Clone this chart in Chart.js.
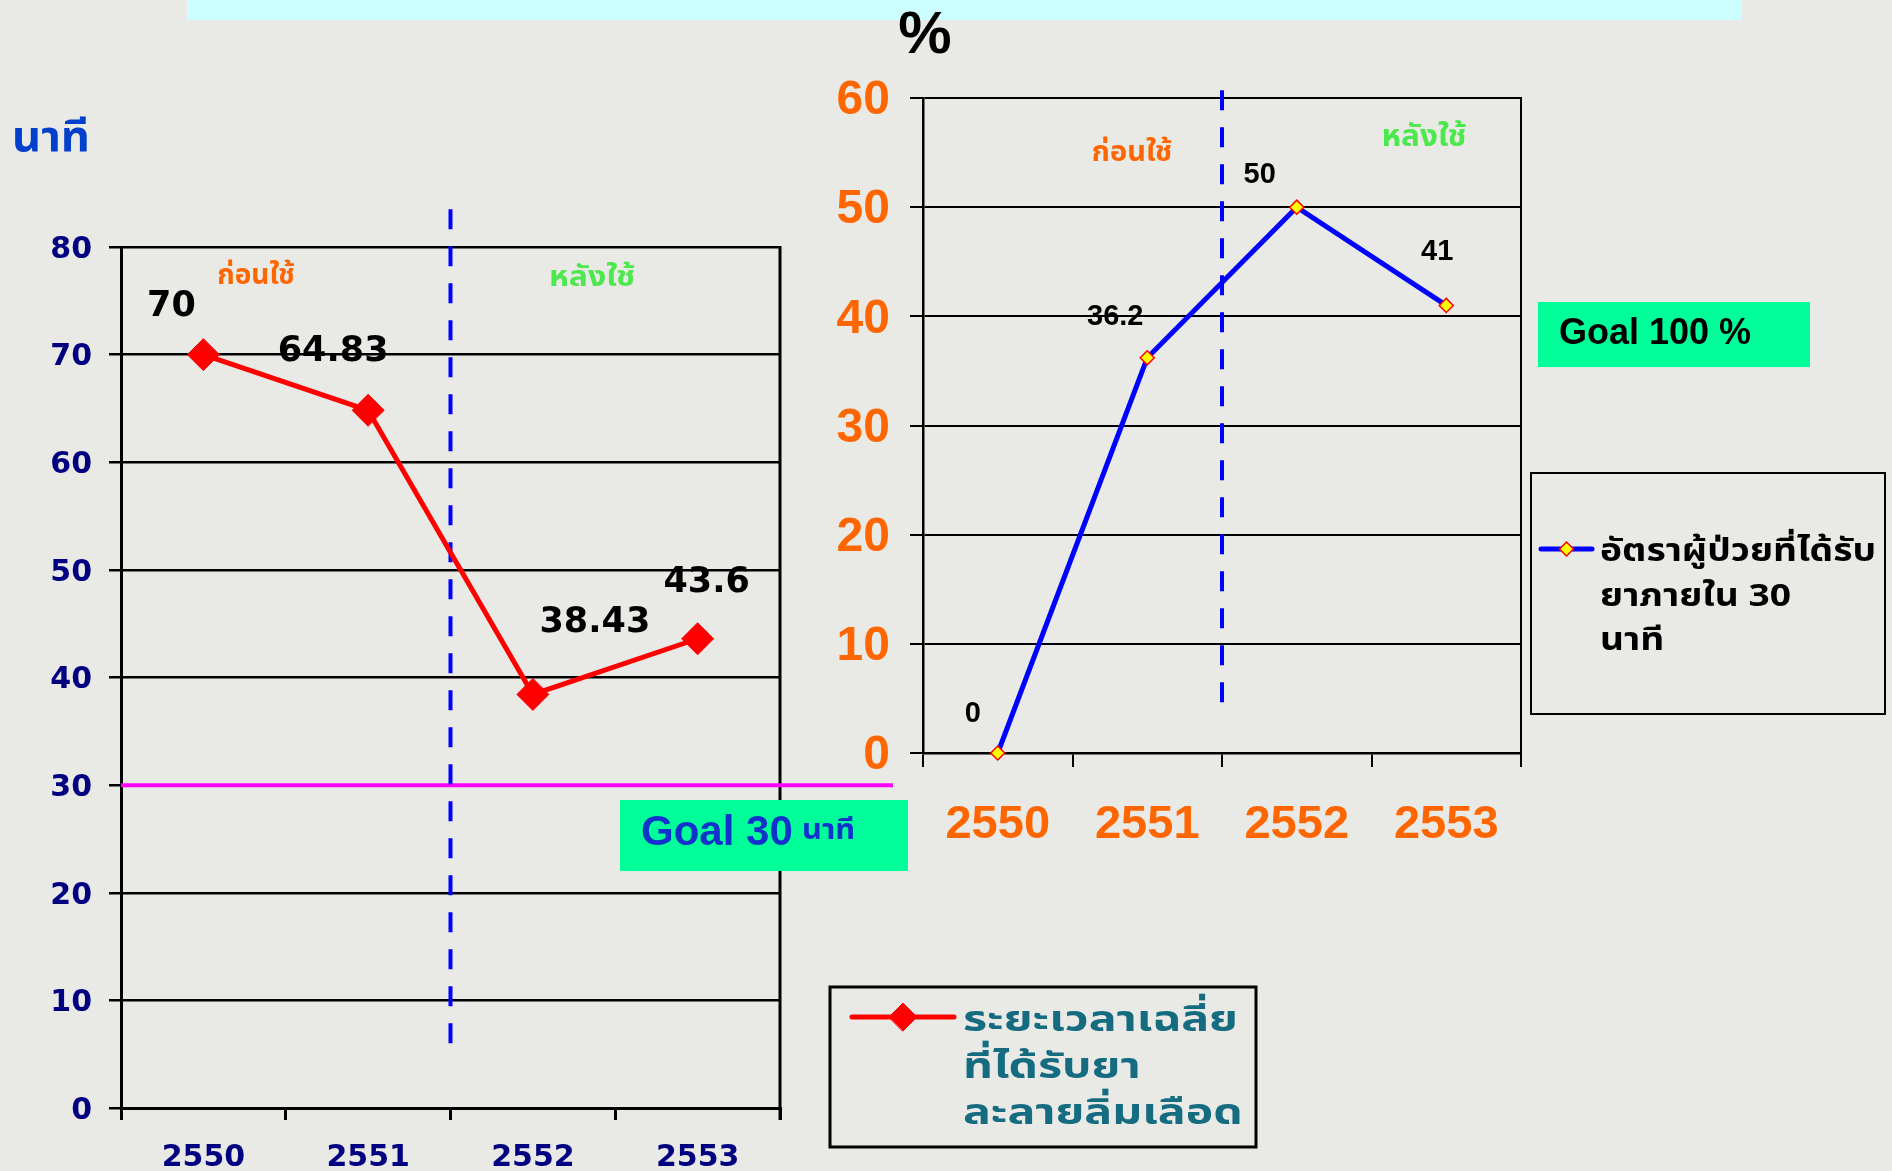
<!DOCTYPE html>
<html>
<head>
<meta charset="utf-8">
<script src="https://cdn.jsdelivr.net/npm/chart.js@4.4.1/dist/chart.umd.min.js"></script>
<style>
  html, body { margin: 0; padding: 0; width: 1892px; height: 1171px; overflow: hidden; background: #e9e9e6; }
  canvas { position: absolute; left: 0; top: 0; }
  #band { position: absolute; left: 187px; top: 0; width: 1554px; height: 20px; background: #ccffff; }
</style>
</head>
<body>
<div id="band"></div>
<canvas id="minutes" width="1892" height="1171"></canvas>
<canvas id="rate" width="1892" height="1171"></canvas>
<script>
// Fiscal years (Buddhist era)
const years = ['2550', '2551', '2552', '2553'];

// Average door-to-needle time for thrombolysis (minutes)
const avgMinutes = [70, 64.83, 38.43, 43.6];
const minutesAxisMax = 80;
const minutesAxisStep = 10;
const minutesGoal = 30;

// Share of patients treated within 30 minutes (%)
const rateWithin30 = [0, 36.2, 50, 41];
const rateAxisMax = 60;
const rateAxisStep = 10;

// Text
const minutesUnit = 'นาที';
const rateUnit = '%';
const beforeText = 'ก่อนใช้';
const afterText = 'หลังใช้';
const minutesLegend = ['ระยะเวลาเฉลี่ย', 'ที่ได้รับยา', 'ละลายลิ่มเลือด'];
const rateLegend = ['อัตราผู้ป่วยที่ได้รับ', 'ยาภายใน 30', 'นาที'];
const minutesGoalText = ['Goal 30', 'นาที'];
const rateGoalText = 'Goal 100 %';

const THAI = "'Noto Sans Thai', 'Noto Sans Thai Looped', 'Noto Sans', sans-serif";
const SANS = "'Liberation Sans', Arial, sans-serif";
const WIDE = "'DejaVu Sans', Verdana, sans-serif";

// Draw text, optionally stretched horizontally around its anchor
function drawText(ctx, s, x, y, font, color, align, stretch) {
  const k = stretch || 1;
  ctx.save();
  ctx.translate(x, y);
  ctx.scale(k, 1);
  ctx.font = font;
  ctx.fillStyle = color;
  ctx.textAlign = align || 'center';
  ctx.textBaseline = 'middle';
  ctx.fillText(s, 0, 0);
  ctx.restore();
}

// Value labels placed beside each point
const valueLabels = {
  id: 'valueLabels',
  afterDatasetsDraw(chart, args, opts) {
    const ctx = chart.ctx;
    const meta = chart.getDatasetMeta(0);
    const values = chart.data.datasets[0].data;
    meta.data.forEach((pt, i) => {
      const [dx, dy] = opts.offsets[i];
      drawText(ctx, String(values[i]), pt.x + dx, pt.y + dy, opts.font, opts.color);
    });
  }
};

// Divider between "before" and "after" periods, drawn on the category boundary
function drawDivider(chart, fromVal, toVal, width) {
  const x = chart.scales.x, y = chart.scales.y;
  const px = (x.getPixelForValue(1) + x.getPixelForValue(2)) / 2;
  const ctx = chart.ctx;
  ctx.save();
  ctx.strokeStyle = '#0000ff';
  ctx.lineWidth = width;
  ctx.setLineDash([20, 17]);
  ctx.beginPath();
  ctx.moveTo(px, y.getPixelForValue(fromVal));
  ctx.lineTo(px, y.getPixelForValue(toVal));
  ctx.stroke();
  ctx.restore();
}

function drawRightBorder(chart, width) {
  const a = chart.chartArea, ctx = chart.ctx;
  ctx.save();
  ctx.strokeStyle = '#000';
  ctx.lineWidth = width;
  ctx.beginPath();
  ctx.moveTo(a.right, a.top - 1);
  ctx.lineTo(a.right, a.bottom + chart.options.scales.x.grid.tickLength);
  ctx.stroke();
  ctx.restore();
}

function drawBox(ctx, x, y, w, h, fill, stroke, lw) {
  ctx.save();
  if (fill) { ctx.fillStyle = fill; ctx.fillRect(x, y, w, h); }
  if (stroke) { ctx.strokeStyle = stroke; ctx.lineWidth = lw; ctx.strokeRect(x, y, w, h); }
  ctx.restore();
}

function drawLegendSymbol(ctx, x0, x1, y, color, lw, point) {
  ctx.save();
  ctx.strokeStyle = color;
  ctx.lineWidth = lw;
  ctx.lineCap = 'round';
  ctx.beginPath();
  ctx.moveTo(x0, y);
  ctx.lineTo(x1, y);
  ctx.stroke();
  ctx.fillStyle = point.fill;
  ctx.strokeStyle = point.stroke;
  ctx.lineWidth = point.borderWidth;
  Chart.helpers.drawPoint(ctx, { pointStyle: 'rectRot', radius: point.radius, rotation: 0, borderWidth: point.borderWidth }, (x0 + x1) / 2, y);
  ctx.restore();
}

const minutesDecor = {
  id: 'minutesDecor',
  beforeDatasetsDraw(chart) {
    const ctx = chart.ctx, a = chart.chartArea, y = chart.scales.y;
    drawRightBorder(chart, 3);
    // goal line at 30 minutes
    const gy = y.getPixelForValue(minutesGoal);
    ctx.save();
    ctx.strokeStyle = '#ff00ff';
    ctx.lineWidth = 4;
    ctx.beginPath();
    ctx.moveTo(a.left, gy);
    ctx.lineTo(a.right + 113, gy);
    ctx.stroke();
    ctx.restore();
    drawDivider(chart, 83.5, 5, 4);
  },
  afterDraw(chart) {
    const ctx = chart.ctx;
    drawText(ctx, minutesUnit, 51, 142, `bold 43px ${THAI}`, '#0040cc', 'center', 1.05);
    drawText(ctx, beforeText, 256, 278, `bold 28px ${THAI}`, '#ff6600');
    drawText(ctx, afterText, 592, 280, `bold 29px ${THAI}`, '#4de84d', 'center', 1.1);
    // goal box
    drawBox(ctx, 620, 800, 288, 71, '#00ff99');
    drawText(ctx, minutesGoalText[0], 641, 833, `bold 42px ${SANS}`, '#1133cc', 'left');
    drawText(ctx, minutesGoalText[1], 802, 833, `bold 28px ${THAI}`, '#1133cc', 'left', 1.1);
    // legend
    drawBox(ctx, 830, 987, 426, 160, null, '#000', 3);
    drawLegendSymbol(ctx, 852, 954, 1017, '#ff0000', 5, { fill: '#ff0000', stroke: '#ff0000', radius: 14, borderWidth: 1 });
    minutesLegend.forEach((s, i) => drawText(ctx, s, 963, 1024 + i * 46.5, `bold 36px ${THAI}`, '#156b80', 'left', 1.29));
  }
};

const rateDecor = {
  id: 'rateDecor',
  beforeDatasetsDraw(chart) {
    drawRightBorder(chart, 2);
    drawDivider(chart, 60.7, 4, 4);
  },
  afterDraw(chart) {
    const ctx = chart.ctx;
    drawText(ctx, rateUnit, 925, 36, `bold 60px ${SANS}`, '#000');
    drawText(ctx, beforeText, 1132, 155, `bold 29px ${THAI}`, '#ff6600');
    drawText(ctx, afterText, 1424, 140, `bold 30px ${THAI}`, '#4de84d', 'center', 1.05);
    drawBox(ctx, 1538, 302, 272, 65, '#00ff99');
    drawText(ctx, rateGoalText, 1559, 334, `bold 36px ${SANS}`, '#000', 'left');
    drawBox(ctx, 1531, 473, 354, 241, null, '#000', 2);
    drawLegendSymbol(ctx, 1541, 1592, 549, '#0000ff', 5, { fill: '#ffff00', stroke: '#ff0000', radius: 7, borderWidth: 1.5 });
    rateLegend.forEach((s, i) => drawText(ctx, s, 1600, 555 + i * 44.5, `bold 31px ${THAI}`, '#000', 'left', 1.2));
  }
};

Chart.defaults.animation = false;

new Chart(document.getElementById('minutes'), {
  type: 'line',
  data: {
    labels: years,
    datasets: [{
      label: minutesLegend.join(''),
      data: avgMinutes,
      borderColor: '#ff0000',
      backgroundColor: '#ff0000',
      borderWidth: 5,
      tension: 0,
      pointStyle: 'rectRot',
      pointRadius: 16,
      pointHoverRadius: 16,
      pointBackgroundColor: '#ff0000',
      pointBorderColor: '#ff0000',
      pointBorderWidth: 1,
      clip: false
    }]
  },
  options: {
    responsive: false,
    events: [],
    layout: { padding: { left: 0, top: 247, right: 1112, bottom: 0 } },
    plugins: {
      legend: { display: false },
      tooltip: { enabled: false },
      valueLabels: { offsets: [[-32, -48], [-35, -58], [62, -71], [9, -56]], font: `bold 35px ${WIDE}`, color: '#000' }
    },
    scales: {
      x: {
        offset: true,
        grid: { offset: true, drawOnChartArea: false, drawTicks: true, tickLength: 12, color: '#000', lineWidth: 3 },
        border: { display: true, color: '#000', width: 3 },
        ticks: { color: '#000080', font: { family: WIDE, weight: 'bold', size: 30 }, padding: 20 },
        afterFit(s) { s.height = 63; }
      },
      y: {
        min: 0, max: minutesAxisMax,
        ticks: { stepSize: minutesAxisStep, color: '#000080', font: { family: WIDE, weight: 'bold', size: 30 }, padding: 17, labelOffset: 3 },
        grid: { color: '#000', lineWidth: 2.5, tickLength: 12 },
        border: { display: true, color: '#000', width: 3 },
        afterFit(s) { s.width = 121; }
      }
    }
  },
  plugins: [valueLabels, minutesDecor]
});

new Chart(document.getElementById('rate'), {
  type: 'line',
  data: {
    labels: years,
    datasets: [{
      label: rateLegend.join(''),
      data: rateWithin30,
      borderColor: '#0000ff',
      backgroundColor: '#0000ff',
      borderWidth: 5,
      tension: 0,
      pointStyle: 'rectRot',
      pointRadius: 7,
      pointHoverRadius: 7,
      pointBackgroundColor: '#ffff00',
      pointBorderColor: '#ff0000',
      pointBorderWidth: 1.5,
      clip: false
    }]
  },
  options: {
    responsive: false,
    events: [],
    layout: { padding: { left: 803, top: 98, right: 371, bottom: 318 } },
    plugins: {
      legend: { display: false },
      tooltip: { enabled: false },
      valueLabels: { offsets: [[-25, -39], [-32, -41], [-37, -32], [-9, -53]], font: `bold 29px ${SANS}`, color: '#000' }
    },
    scales: {
      x: {
        offset: true,
        grid: { offset: true, drawOnChartArea: false, drawTicks: true, tickLength: 14, color: '#000', lineWidth: 2 },
        border: { display: true, color: '#000', width: 2.5 },
        ticks: { color: '#ff6600', font: { family: SANS, weight: 'bold', size: 47 }, padding: 30 },
        afterFit(s) { s.height = 100; }
      },
      y: {
        min: 0, max: rateAxisMax,
        ticks: { stepSize: rateAxisStep, color: '#ff6600', font: { family: SANS, weight: 'bold', size: 48 }, padding: 20, labelOffset: 3 },
        grid: { color: '#000', lineWidth: 2, tickLength: 13 },
        border: { display: true, color: '#000', width: 2.5 },
        afterFit(s) { s.width = 120; }
      }
    }
  },
  plugins: [valueLabels, rateDecor]
});
</script>
</body>
</html>
